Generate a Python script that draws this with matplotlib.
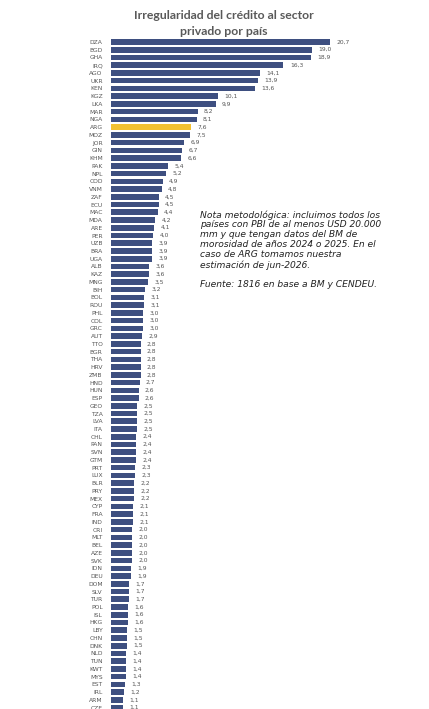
import matplotlib
matplotlib.use("Agg")
import matplotlib.pyplot as plt

countries = ["DZA","BGD","GHA","IRQ","AGO","UKR","KEN","KGZ","LKA","MAR","NGA","ARG","MOZ","JOR",
             "GIN","KHM","PAK","NPL","COD","VNM","ZAF","ECU","MAC","MDA","ARE","PER","UZB","BRA",
             "UGA","ALB","KAZ","MNG","BIH","BOL","ROU","PHL","COL","GRC","AUT","TTO","BGR","THA",
             "HRV","ZMB","HND","HUN","ESP","GEO","TZA","LVA","ITA","CHL","PAN","SVN","GTM","PRT",
             "LUX","BLR","PRY","MEX","CYP","FRA","IND","CRI","MLT","BEL","AZE","SVK","IDN","DEU",
             "DOM","SLV","TUR","POL","ISL","HKG","LBY","CHN","DNK","NLD","TUN","KWT","MYS","EST",
             "IRL","ARM","CZE"]
values = [20.7,19.0,18.9,16.3,14.1,13.9,13.6,10.1,9.9,8.2,8.1,7.6,7.5,6.9,
          6.7,6.6,5.4,5.2,4.9,4.8,4.5,4.5,4.4,4.2,4.1,4.0,3.9,3.9,
          3.9,3.6,3.6,3.5,3.2,3.1,3.1,3.0,3.0,3.0,2.9,2.8,2.8,2.8,
          2.8,2.8,2.7,2.6,2.6,2.5,2.5,2.5,2.5,2.4,2.4,2.4,2.4,2.3,
          2.3,2.2,2.2,2.2,2.1,2.1,2.1,2.0,2.0,2.0,2.0,2.0,1.9,1.9,
          1.7,1.7,1.7,1.6,1.6,1.6,1.5,1.5,1.5,1.4,1.4,1.4,1.4,1.3,
          1.2,1.1,1.1]
highlight = "ARG"

title = "Irregularidad del crédito al sector\nprivado por país"
note = ("Nota metodológica: incluimos todos los\n"
        "países con PBI de al menos USD 20.000\n"
        "mm y que tengan datos del BM de\n"
        "morosidad de años 2024 o 2025. En el\n"
        "caso de ARG tomamos nuestra\n"
        "estimación de jun-2026.\n"
        "\n"
        "Fuente: 1816 en base a BM y CENDEU.")

W, H = 429, 709
fig = plt.figure(figsize=(W/100, H/100), dpi=100)
fig.patch.set_facecolor("white")

ax_left, ax_right = 111, 111 + 10.58*25
ax_top, ax_bot = 36, 709
ax = fig.add_axes([ax_left/W, 1 - ax_bot/H, (ax_right-ax_left)/W, (ax_bot-ax_top)/H])

navy = "#3E4F80"
gold = "#F3C130"
colors = [gold if c == highlight else navy for c in countries]
y = list(range(len(countries)))
ax.barh(y, values, height=0.72, color=colors)
row = 7.74
ax.set_ylim((ax_bot-42)/row, -(42-ax_top)/row)
ax.set_xlim(0, 25)
ax.set_yticks(y)
ax.set_yticklabels(countries, fontsize=4.3, color="#555555")
ax.tick_params(axis="y", length=0, pad=6)
ax.set_xticks([])
for s in ax.spines.values():
    s.set_visible(False)
for yi, v in zip(y, values):
    ax.text(v + 0.6, yi, f"{v:.1f}".replace(".", ","), va="center", ha="left",
            fontsize=4.3, color="#555555")

fig.text(224/W, 1 - 23.5/H, title, ha="center", va="center", fontsize=8.8,
         fontweight="bold", family=["Lato", "DejaVu Sans"], color="#595959",
         linespacing=1.55)
fig.text(200/W, 1 - 210/H, note, ha="left", va="top", fontsize=6.6,
         style="italic", color="#222222", linespacing=1.13)

fig.savefig("out.png", dpi=100, facecolor="white")
